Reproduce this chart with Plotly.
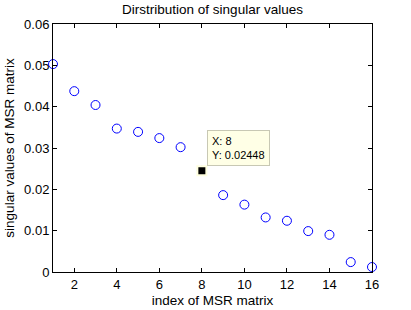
import plotly.graph_objects as go

idx = list(range(1, 17))
sv = [0.0503, 0.04375, 0.0404, 0.0347, 0.0339, 0.0324, 0.0302, 0.02448,
      0.0186, 0.0163, 0.0132, 0.0124, 0.0099, 0.0090, 0.0024, 0.0012]
tip_x = 8
tip_y = 0.02448
x_ticks = [2, 4, 6, 8, 10, 12, 14, 16]
y_ticks = [0, 0.01, 0.02, 0.03, 0.04, 0.05, 0.06]
y_tick_text = ["0", "0.01", "0.02", "0.03", "0.04", "0.05", "0.06"]

FONT = "Liberation Sans, Arial, Helvetica, sans-serif"

fig = go.Figure()
fig.add_trace(go.Scatter(
    x=idx, y=sv, mode="markers", cliponaxis=False,
    marker=dict(symbol="circle-open", size=9, color="#0000ff", line=dict(width=1)),
    hoverinfo="skip", showlegend=False))
fig.add_trace(go.Scatter(
    x=[tip_x], y=[tip_y], mode="markers", cliponaxis=False,
    marker=dict(symbol="square", size=9, color="black", line=dict(color="#ffffe0", width=2)),
    hoverinfo="skip", showlegend=False))

fig.add_annotation(
    x=tip_x, y=tip_y, xref="x", yref="y", showarrow=False,
    xanchor="left", yanchor="bottom", xshift=5, yshift=5,
    text="X: 8<br>Y: " + str(tip_y), align="left",
    font=dict(family=FONT, size=11, color="black"),
    bgcolor="#ffffe6", bordercolor="#c8c8b4", borderwidth=1, borderpad=4)

axis_common = dict(showline=True, linecolor="black", linewidth=1, mirror="ticks",
                   ticks="inside", ticklen=4, tickcolor="black", showgrid=False,
                   zeroline=False, automargin=False,
                   tickfont=dict(family=FONT, size=13, color="black"))

fig.update_layout(
    template="none",
    width=411, height=310,
    margin=dict(l=53, r=39, t=24, b=38, pad=0),
    paper_bgcolor="white", plot_bgcolor="white",
    title=dict(text="Dirstribution of singular values", x=0.5, xref="paper",
               xanchor="center", y=1 - 9 / 310, yanchor="middle",
               font=dict(family=FONT, size=13.5, color="black")),
    xaxis=dict(range=[1, 16], tickvals=x_ticks,
               title=dict(text="index of MSR matrix", standoff=4,
                          font=dict(family=FONT, size=13.5, color="black")),
               **axis_common),
    yaxis=dict(range=[0, 0.06], tickvals=y_ticks, ticktext=y_tick_text,
               title=dict(text="singular values of MSR matrix", standoff=6,
                          font=dict(family=FONT, size=13.5, color="black")),
               **axis_common),
)

fig.write_html("out.html", config={"displayModeBar": False},
               post_script="document.body.style.margin='0';document.body.style.overflow='hidden';")
